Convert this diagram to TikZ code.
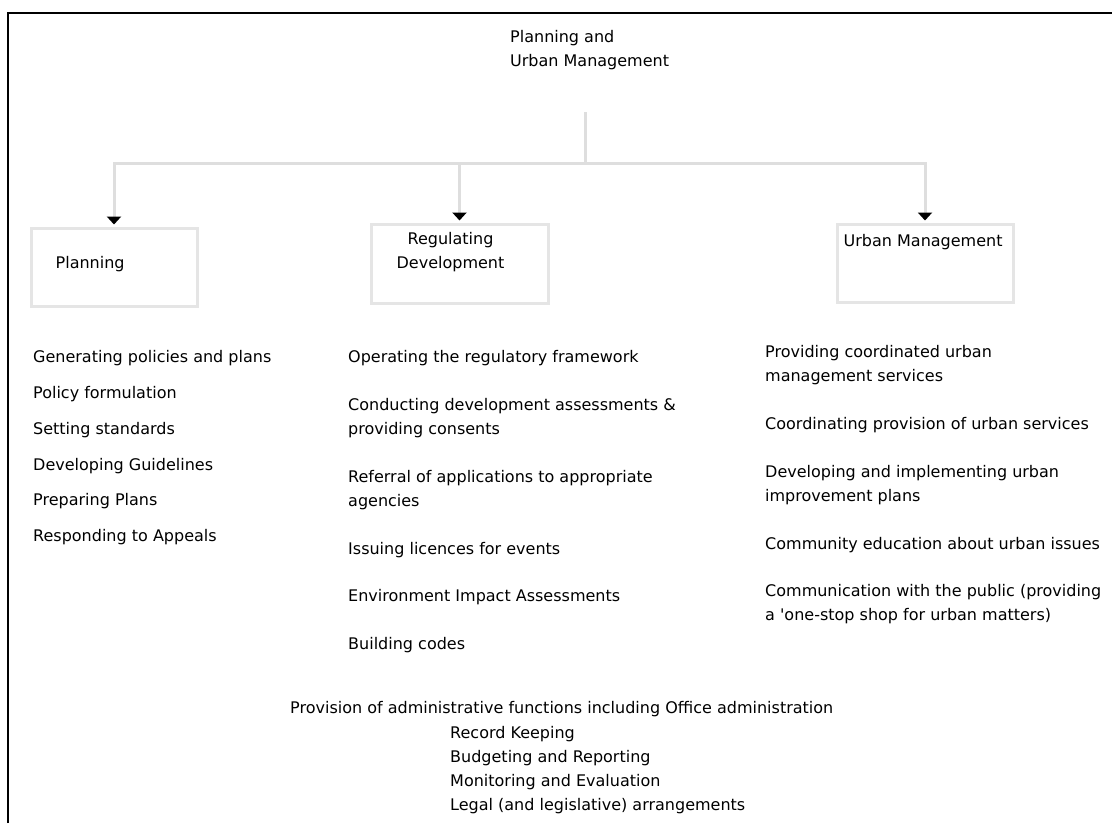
\documentclass[tikz,border=0pt]{standalone}
\usepackage{fontspec}
\setmainfont{DejaVu Sans}
\usetikzlibrary{positioning,arrows.meta}

\tikzset{
  txt/.style={font=\fontsize{16}{24}\selectfont,inner sep=0pt,align=left},
  unit/.style={draw=black!10,line width=3pt,inner sep=0pt},
  wire/.style={draw=black!13,line width=3pt},
  drop/.style={wire,->,shorten >=2pt},
  pitem/.style={txt,below=20pt of #1.south west,anchor=north west},
  ritem/.style={txt,below=32pt of #1.south west,anchor=north west},
}

\begin{document}
\begin{tikzpicture}[x=1pt,y=-1pt,>={Triangle[width=14pt,length=8pt,black]}]
\useasboundingbox (0,0) rectangle (1112,823);
\draw[line width=1.5pt] (8,823) -- (8,13) -- (1112,13);

\node[txt,anchor=north west] (top) at (510,30) {Planning and\\Urban Management};

\node[unit,minimum width=166pt,minimum height=78pt] (plan)  at (114,267)     {};
\node[unit,minimum width=177pt,minimum height=79pt] (reg)   at (459.5,263.5) {};
\node[unit,minimum width=176pt,minimum height=78pt] (urban) at (925,263)     {};
\node[txt] (plantxt)  [below right=30pt and 26pt of plan.north west] {Planning};
\node[txt,align=center] (regtxt) [below=10pt of reg.north,xshift=-9pt] {Regulating\\Development};
\node[txt] (urbantxt) [below right=12pt and 8pt of urban.north west] {Urban Management};

\coordinate (stem) at (585,112);
\coordinate (bus)  at (585,163);
\draw[wire] (stem) -- (bus);
\draw[drop] (bus) -| (plan.north);
\draw[drop] (bus) -| (reg.north);
\draw[drop] (bus) -| (urban.north);

% planning
\node[txt,anchor=north west] (p1) at (33,350) {Generating policies and plans};
\node[pitem=p1] (p2) {Policy formulation};
\node[pitem=p2] (p3) {Setting standards};
\node[pitem=p3] (p4) {Developing Guidelines};
\node[pitem=p4] (p5) {Preparing Plans};
\node[pitem=p5] (p6) {Responding to Appeals};

% regulating development
\node[txt,anchor=north west] (r1) at (348,350) {Operating the regulatory framework};
\node[ritem=r1] (r2) {Conducting development assessments \&\\providing consents};
\node[ritem=r2] (r3) {Referral of applications to appropriate\\agencies};
\node[ritem=r3] (r4) {Issuing licences for events};
\node[ritem=r4] (r5) {Environment Impact Assessments};
\node[ritem=r5] (r6) {Building codes};

% urban management
\node[txt,anchor=north west] (u1) at (765,345) {Providing coordinated urban\\management services};
\node[ritem=u1] (u2) {Coordinating provision of urban services};
\node[ritem=u2] (u3) {Developing and implementing urban\\improvement plans};
\node[ritem=u3] (u4) {Community education about urban issues};
\node[ritem=u4] (u5) {Communication with the public (providing\\a \textquotesingle one-stop shop for urban matters)};

% administration
\node[txt,anchor=north west] (admin) at (290,701) {Provision of administrative functions including Office administration};
\node[txt] (adminlist) [below right=9pt and 160pt of admin.south west] {Record Keeping\\Budgeting and Reporting\\Monitoring and Evaluation\\Legal (and legislative) arrangements};
\end{tikzpicture}
\end{document}
